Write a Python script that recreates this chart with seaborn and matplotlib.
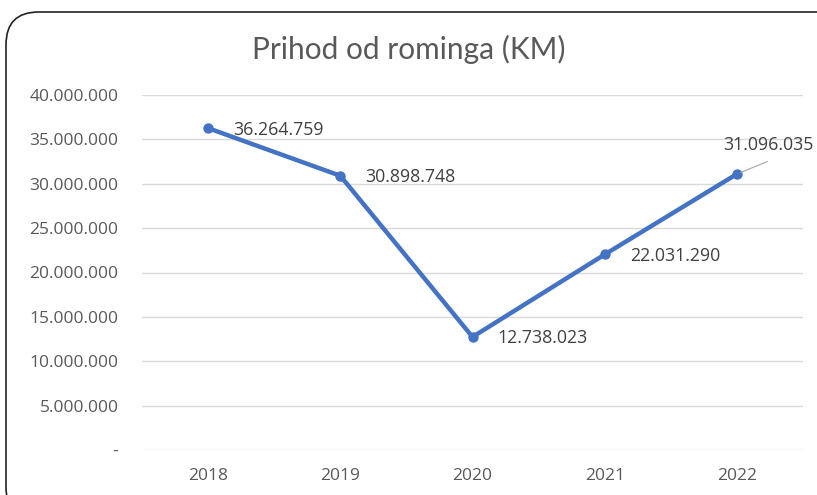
import matplotlib
matplotlib.use("Agg")
import matplotlib.pyplot as plt
import seaborn as sns
import pandas as pd
from matplotlib.patches import FancyBboxPatch
from matplotlib.ticker import FuncFormatter, MultipleLocator

years = ["2018", "2019", "2020", "2021", "2022"]
revenue = [36264759, 30898748, 12738023, 22031290, 31096035]
title = "Prihod od rominga (KM)"

df = pd.DataFrame({"godina": years, "prihod": revenue})

sns.set_theme(style="white")
plt.rcParams["font.family"] = ["Open Sans", "DejaVu Sans"]

grey = "#595959"
blue = "#4472C4"

fig = plt.figure(figsize=(8.17, 4.95), dpi=100)
fig.patch.set_facecolor("white")

# rounded chart frame, drawn behind the axes
frame = FancyBboxPatch((6 / 817, -0.05), 1.2, 1.0 - 12 / 495 + 0.05,
                       boxstyle="round,pad=0,rounding_size=0.04",
                       transform=fig.transFigure, facecolor="white",
                       edgecolor="#222222", linewidth=1.2, zorder=-10,
                       mutation_aspect=817 / 495)
fig.patches.append(frame)

ax = fig.add_axes([142 / 817, 1 - 450 / 495, (803 - 142) / 817, (450 - 95) / 495])
ax.set_facecolor("none")
ax.set_zorder(5)

sns.lineplot(data=df, x="godina", y="prihod", ax=ax, color=blue, linewidth=3.2,
             marker="o", markersize=7.5, markeredgewidth=0, sort=False)

ax.set_ylim(0, 40000000)
ax.set_xlim(-0.5, len(years) - 0.5)
ax.yaxis.set_major_locator(MultipleLocator(5000000))


def fmt(v, pos):
    if v == 0:
        return "-"
    return f"{int(v):,}".replace(",", ".")


ax.yaxis.set_major_formatter(FuncFormatter(fmt))
ax.grid(axis="y", color="#d9d9d9", linewidth=1)
ax.grid(axis="x", visible=False)
for s in ax.spines.values():
    s.set_visible(False)
ax.tick_params(axis="both", length=0, labelsize=12.5, labelcolor=grey)
ax.tick_params(axis="y", pad=17)
ax.tick_params(axis="x", pad=13)
ax.set_xlabel("")
ax.set_ylabel("")

fig.text(0.5, 1 - 49 / 495, title, ha="center", va="center", fontsize=21.5,
         color=grey, family=["Lato", "DejaVu Sans"])


def lab(v):
    return f"{v:,}".replace(",", ".")


for i in range(4):
    ax.annotate(lab(revenue[i]), (i, revenue[i]), xytext=(18, -1),
                textcoords="offset points", ha="left", va="center",
                fontsize=12.8, color="#404040")

# last label sits above-right with a leader line
ax.annotate(lab(revenue[4]), (4, revenue[4]), xytext=(23, 21),
            textcoords="offset points", ha="center", va="center",
            fontsize=12.8, color="#404040", annotation_clip=False)
ax.annotate("", (4, revenue[4]), xytext=(22, 9), textcoords="offset points",
            arrowprops=dict(arrowstyle="-", color="#a6a6a6", lw=0.8,
                            shrinkA=0, shrinkB=3), annotation_clip=False)

fig.savefig("out.png", dpi=100)
